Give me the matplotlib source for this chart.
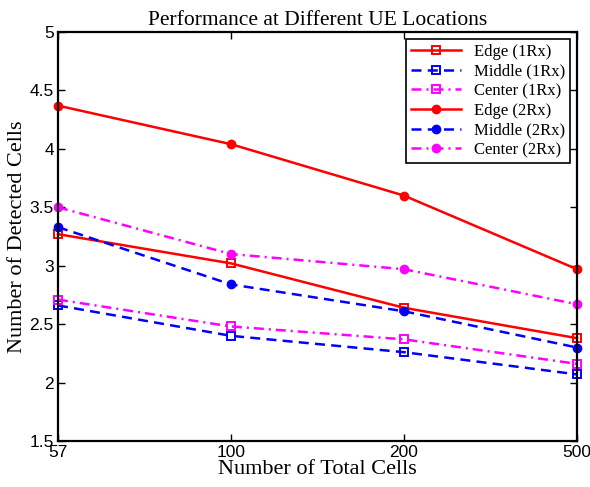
from matplotlib import pyplot as plt
import numpy as np

# data
cells = ['57', '100', '200', '500']
edge_1rx   = [3.27, 3.02, 2.64, 2.38]
middle_1rx = [2.66, 2.40, 2.26, 2.07]
center_1rx = [2.71, 2.48, 2.37, 2.16]
edge_2rx   = [4.37, 4.04, 3.60, 2.97]
middle_2rx = [3.33, 2.84, 2.61, 2.30]
center_2rx = [3.50, 3.10, 2.97, 2.67]

serif = 'Liberation Serif'
sans = 'Liberation Sans'

fig = plt.figure(figsize=(5.9, 4.87), dpi=100)
ax = fig.add_axes([58/590, 1 - 441/487, 519/590, 409/487])
x = np.arange(len(cells))

lw = 1.8
ms = 6
dash = (4, 2.5)
dashdot = (4, 2, 0.8, 2)
kw = dict(lw=lw, ms=ms, clip_on=False)
ax.plot(x, edge_1rx, '-s', color='red', mfc='none', mew=1.4, label='Edge (1Rx)', **kw)
ax.plot(x, middle_1rx, '--s', color='blue', mfc='none', mew=1.4, dashes=dash, label='Middle (1Rx)', **kw)
ax.plot(x, center_1rx, '-.s', color='magenta', mfc='none', mew=1.4, dashes=dashdot, label='Center (1Rx)', **kw)
ax.plot(x, edge_2rx, '-o', color='red', label='Edge (2Rx)', **kw)
ax.plot(x, middle_2rx, '--o', color='blue', dashes=dash, label='Middle (2Rx)', **kw)
ax.plot(x, center_2rx, '-.o', color='magenta', dashes=dashdot, label='Center (2Rx)', **kw)

ax.set_xlim(0, 3)
ax.set_ylim(1.5, 5)
ax.set_xticks(x)
ax.set_xticklabels(cells)
ax.set_yticks(np.arange(1.5, 5.01, 0.5))
ax.set_yticklabels(['1.5', '2', '2.5', '3', '3.5', '4', '4.5', '5'])
for lab in ax.get_xticklabels() + ax.get_yticklabels():
    lab.set_fontfamily(sans)
    lab.set_fontsize(12.5)
ax.tick_params(direction='in', length=5, width=1, top=True, right=True, pad=3)
for s in ax.spines.values():
    s.set_linewidth(1.6)

ax.set_title('Performance at Different UE Locations', family=serif, fontsize=15.5, pad=5)
ax.set_xlabel('Number of Total Cells', family=serif, fontsize=16, labelpad=0)
ax.set_ylabel('Number of Detected Cells', family=serif, fontsize=16, labelpad=2)

leg = ax.legend(loc='upper right', prop={'family': serif, 'size': 12}, fancybox=False,
                edgecolor='black', framealpha=1, handlelength=3.0, handletextpad=0.8,
                borderpad=0.3, labelspacing=0.22, borderaxespad=0.4)
leg.get_frame().set_linewidth(1.2)

plt.savefig('out.png', dpi=100)
